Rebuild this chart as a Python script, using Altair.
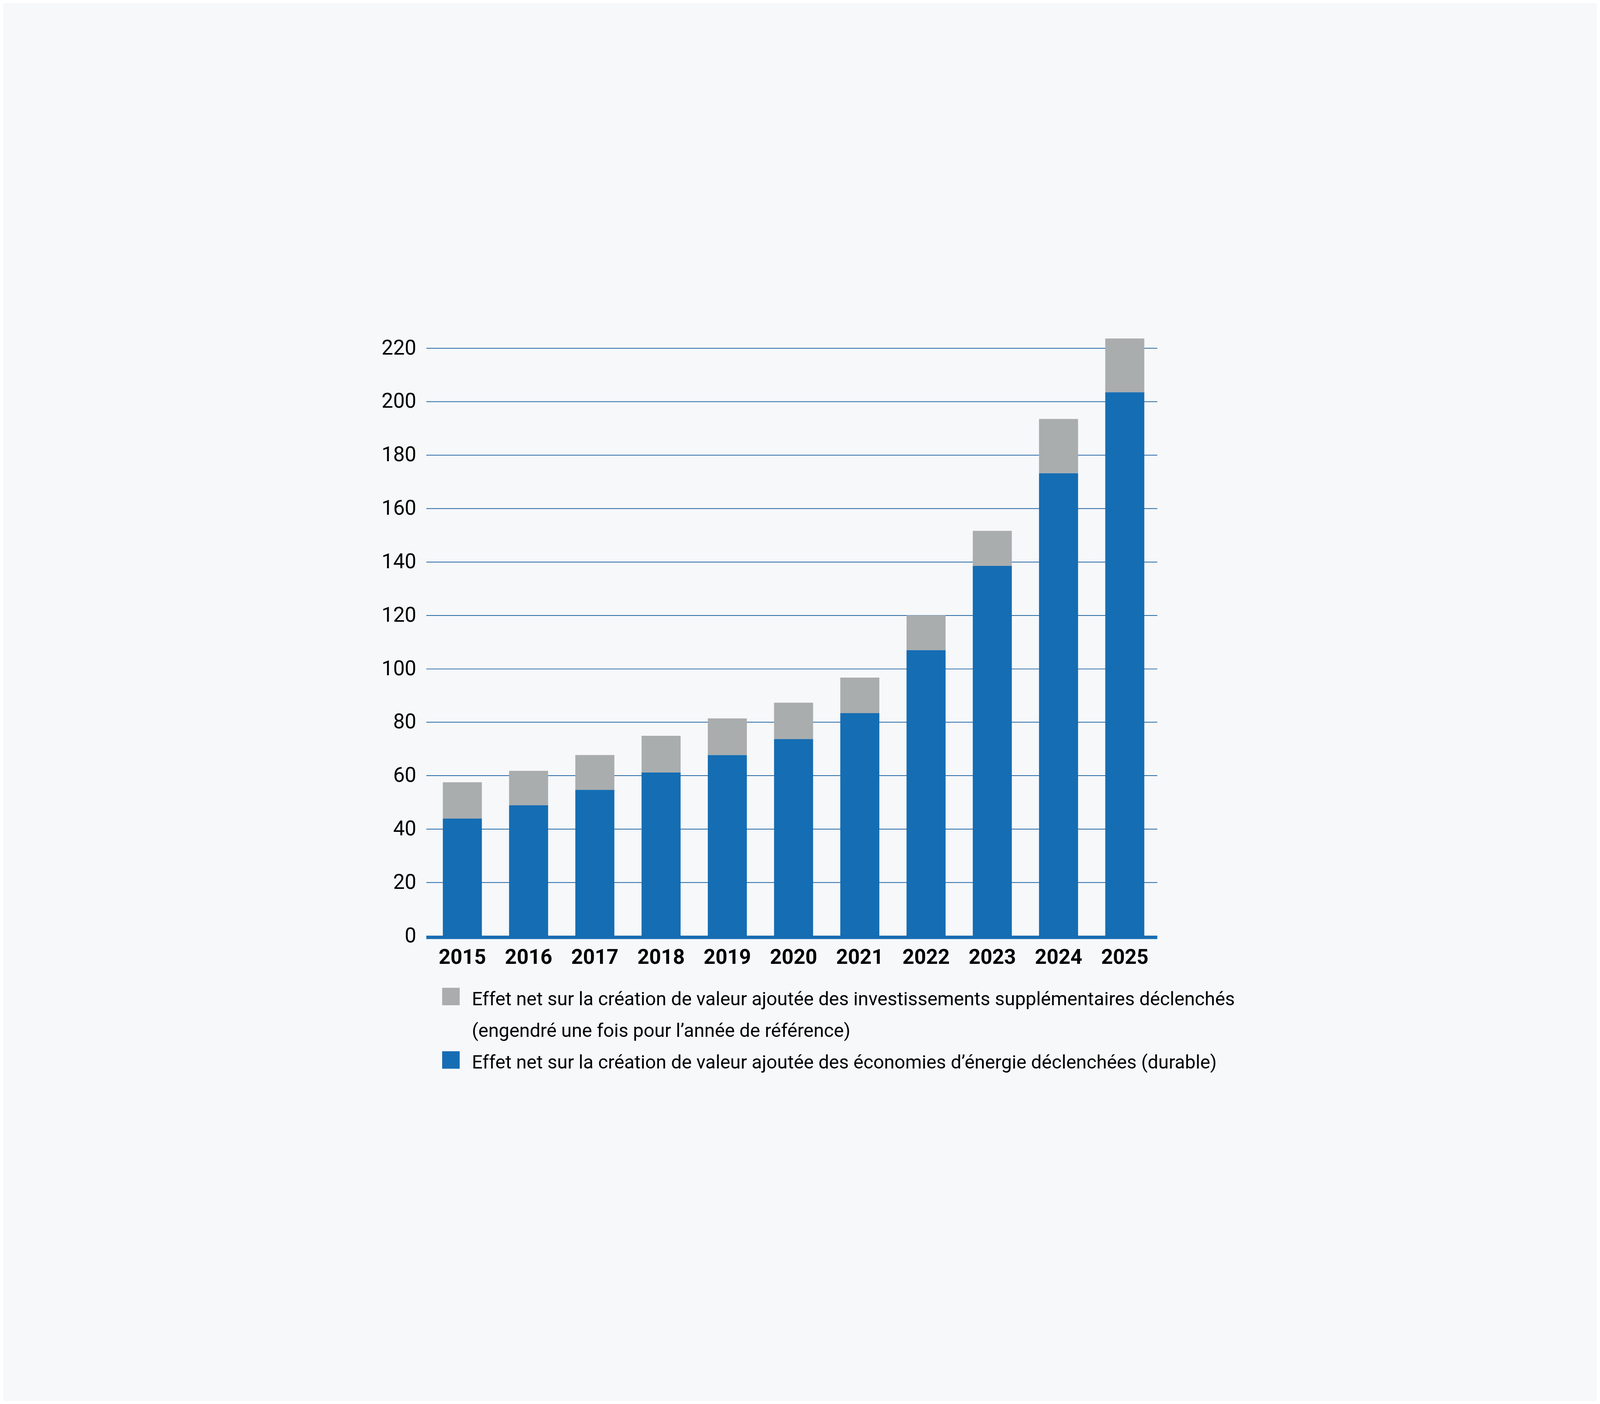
import altair as alt
import pandas as pd

# ---- data ----
years = ["2015", "2016", "2017", "2018", "2019", "2020", "2021", "2022", "2023", "2024", "2025"]
durable = [43.9, 48.9, 54.7, 61.2, 67.7, 73.7, 83.4, 107.0, 138.5, 173.2, 203.5]
one_off = [13.6, 12.9, 13.0, 13.7, 13.7, 13.6, 13.3, 13.0, 13.1, 20.3, 20.1]

series_names = [
    "Effet net sur la création de valeur ajoutée des investissements supplémentaires déclenchés",
    "(engendré une fois pour l’année de référence)",
    "Effet net sur la création de valeur ajoutée des économies d’énergie déclenchées (durable)",
]
series_colors = ["#aaadae", "rgba(0,0,0,0)", "#156db3"]
y_ticks = [0, 20, 40, 60, 80, 100, 120, 140, 160, 180, 200, 220]

rows = []
for i, yr in enumerate(years):
    rows.append({"year": yr, "series": series_names[2], "value": durable[i], "stack_order": 0})
    rows.append({"year": yr, "series": series_names[0], "value": one_off[i], "stack_order": 1})
df = pd.DataFrame(rows)

FONT = "Roboto"

chart = alt.Chart(df).mark_bar(strokeWidth=0).encode(
    x=alt.X(
        "year:O",
        title=None,
        scale=alt.Scale(paddingInner=0.4106, paddingOuter=0.2227, align=0.564),
        axis=alt.Axis(
            labelAngle=0,
            labelFont=FONT,
            labelFontSize=93,
            labelFontWeight="bold",
            labelColor="#000000",
            labelPadding=45,
            labelLimit=1000,
            ticks=False,
            domain=True,
            domainColor="#156db3",
            domainWidth=14,
            offset=7,
            grid=False,
        ),
    ),
    y=alt.Y(
        "value:Q",
        title=None,
        stack="zero",
        scale=alt.Scale(domain=[0, 224], nice=False, zero=True),
        axis=alt.Axis(
            values=y_ticks,
            labelFont=FONT,
            labelFontSize=93,
            labelColor="#000000",
            labelPadding=45,
            labelLimit=1000,
            ticks=False,
            domain=False,
            grid=True,
            gridColor="#2466a3",
            gridWidth=3.5,
        ),
    ),
    color=alt.Color(
        "series:N",
        scale=alt.Scale(domain=series_names, range=series_colors),
        legend=alt.Legend(
            title=None,
            orient="none",
            legendX=69,
            legendY=2942,
            direction="vertical",
            symbolType="M-1,-1.33H1V0.67H-1Z",
            symbolSize=6241,
            symbolStrokeWidth=0,
            labelFont=FONT,
            labelFontSize=85,
            labelColor="#000000",
            labelOffset=52,
            labelLimit=6000,
            rowPadding=46,
            padding=0,
        ),
    ),
    order=alt.Order("stack_order:Q"),
).properties(
    width=3295,
    height=2698,
    autosize=alt.AutoSizeParams(type="none"),
    padding={"left": 1907, "top": 146, "right": 1982, "bottom": 735},
    background="#f6f8fa",
).configure_view(stroke=None)

chart.save("out.html", embed_options={"renderer": "svg", "actions": False})
